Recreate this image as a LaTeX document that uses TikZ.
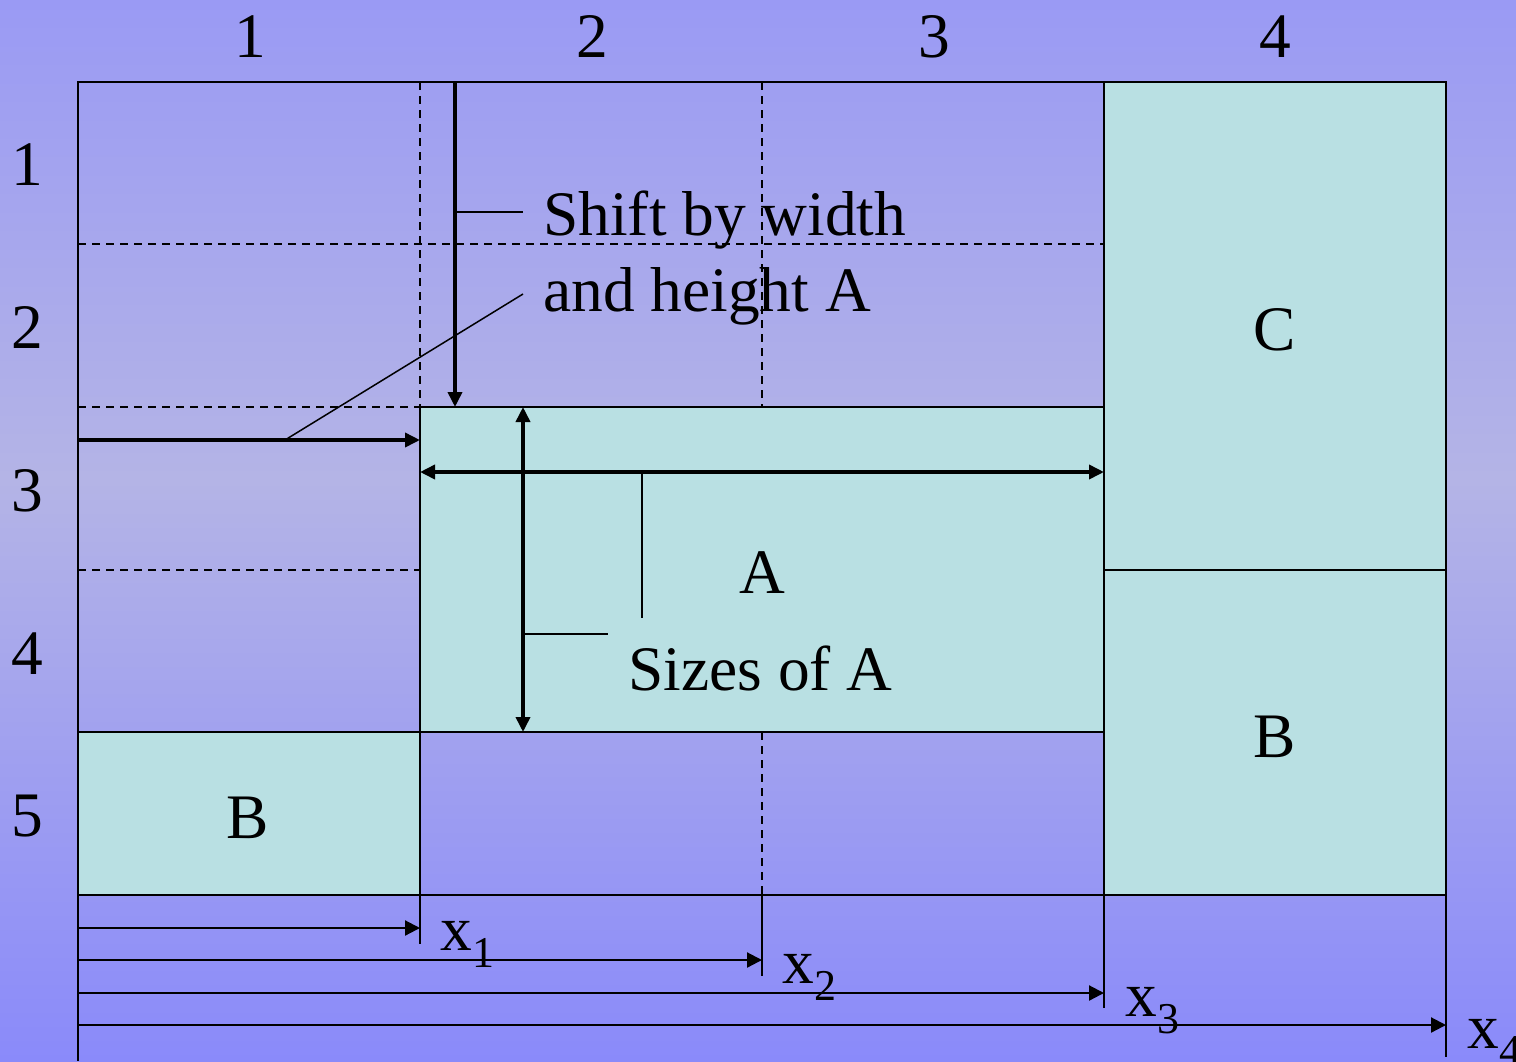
\documentclass[tikz,border=0pt]{standalone}
\usepackage{fontspec}
\setmainfont{Liberation Serif}
\usetikzlibrary{arrows.meta}
\definecolor{bgtop}{HTML}{9A9AF4}
\definecolor{bgmid}{HTML}{B4B4E6}
\definecolor{bgbot}{HTML}{8A8AFA}
\definecolor{boxfill}{HTML}{B9E0E3}
\tikzset{
  big/.style={font=\fontsize{31.7pt}{36pt}\selectfont, inner sep=0pt},
  grid/.style={line width=1.05pt, black},
  dsh/.style={line width=1.1pt, dash pattern=on 4pt off 3pt},
  thin/.style={line width=0.75pt},
  fat/.style={line width=1.8pt, -{Triangle[length=7.5pt,width=7pt]}},
  fatboth/.style={line width=1.8pt, {Triangle[length=7.5pt,width=7pt]}-{Triangle[length=7.5pt,width=7pt]}},
  slim/.style={line width=1.1pt, -{Triangle[length=7.5pt,width=7.5pt]}},
  blk/.style={grid, fill=boxfill}
}
\newcommand{\xsub}[1]{x\raisebox{-8.5pt}{\fontsize{22pt}{24pt}\selectfont #1}}
\begin{document}
\begin{tikzpicture}[x=0.5pt,y=-0.5pt]
\useasboundingbox (0,0) rectangle (1516,1061);
\shade[top color=bgtop, bottom color=bgmid] (0,0) rectangle (1516,480);
\shade[top color=bgmid, bottom color=bgbot] (0,479) rectangle (1516,1061);

% named points
\coordinate (L) at (78,82);
\coordinate (R) at (1446,895);
% filled blocks
\draw[blk] (420,407) rectangle (1104,732);
\draw[blk] (1104,82) rectangle (1446,570);
\draw[blk] (1104,570) rectangle (1446,895);
\draw[blk] (78,732) rectangle (420,895);
\draw[grid] (L) rectangle (R);

% dashed grid
\draw[dsh] (78,244) -- (1104,244);
\draw[dsh] (78,407) -- (420,407);
\draw[dsh] (78,570) -- (420,570);
\draw[dsh] (420,82) -- (420,407);
\draw[dsh] (762,82) -- (762,407);
\draw[dsh] (762,732) -- (762,895);

% extension lines
\draw[grid] (78,895) -- (78,1061);
\draw[grid] (420,895) -- (420,944);
\draw[grid] (762,895) -- (762,976);
\draw[grid] (1104,895) -- (1104,1008);
\draw[grid] (1446,895) -- (1446,1057);

% coordinates for arrows
\coordinate (sv0) at (455,82);
\coordinate (sv1) at (455,407);
\coordinate (sh0) at (78,440);
\coordinate (sh1) at (420,440);
\coordinate (aw0) at (420,472);
\coordinate (aw1) at (1104,472);
\coordinate (ah0) at (523,407);
\coordinate (ah1) at (523,732);

\draw[fat] (sv0) -- (sv1);
\draw[fat] (sh0) -- (sh1);
\draw[fatboth] (aw0) -- (aw1);
\draw[fatboth] (ah0) -- (ah1);

% leader lines
\draw[thin] (455,212) -- (523,212);
\draw[thin] (285,440) -- (523,294);
\draw[thin] (642,472) -- (642,618);
\draw[thin] (523,634) -- (608,634);

% texts
\node[big, anchor=base west] (t1) at (543,235) {Shift by width};
\node[big, anchor=base west] (t2) at (543,311) {and height A};
\node[big, anchor=base west] (t3) at (628,690) {Sizes of A};
\node[big, anchor=base] (la) at (762,593) {A};
\node[big, anchor=base] (lc) at (1275,350) {C};
\node[big, anchor=base] (lb1) at (1275,757) {B};
\node[big, anchor=base] (lb2) at (248,838) {B};

% column / row numbers
\node[big, anchor=base] (c1) at (250,57) {1};
\node[big, anchor=base] (c2) at (592,57) {2};
\node[big, anchor=base] (c3) at (934,57) {3};
\node[big, anchor=base] (c4) at (1275,57) {4};
\node[big, anchor=base] (r1) at (27,185) {1};
\node[big, anchor=base] (r2) at (27,348) {2};
\node[big, anchor=base] (r3) at (27,511) {3};
\node[big, anchor=base] (r4) at (27,674) {4};
\node[big, anchor=base] (r5) at (27,836) {5};

% bottom arrows
\coordinate (b0) at (78,928);
\coordinate (b1) at (420,928);
\coordinate (c0) at (78,960);
\coordinate (cc1) at (762,960);
\coordinate (d0) at (78,993);
\coordinate (d1) at (1104,993);
\coordinate (e0) at (78,1025);
\coordinate (e1) at (1446,1025);
\draw[slim] (b0) -- (b1);
\draw[slim] (c0) -- (cc1);
\draw[slim] (d0) -- (d1);
\draw[slim] (e0) -- (e1);
\node[big, anchor=base west] (x1) at (440,950) {\xsub{1}};
\node[big, anchor=base west] (x2) at (782,983) {\xsub{2}};
\node[big, anchor=base west] (x3) at (1125,1016) {\xsub{3}};
\node[big, anchor=base west] (x4) at (1467,1048) {\xsub{4}};
\end{tikzpicture}
\end{document}
